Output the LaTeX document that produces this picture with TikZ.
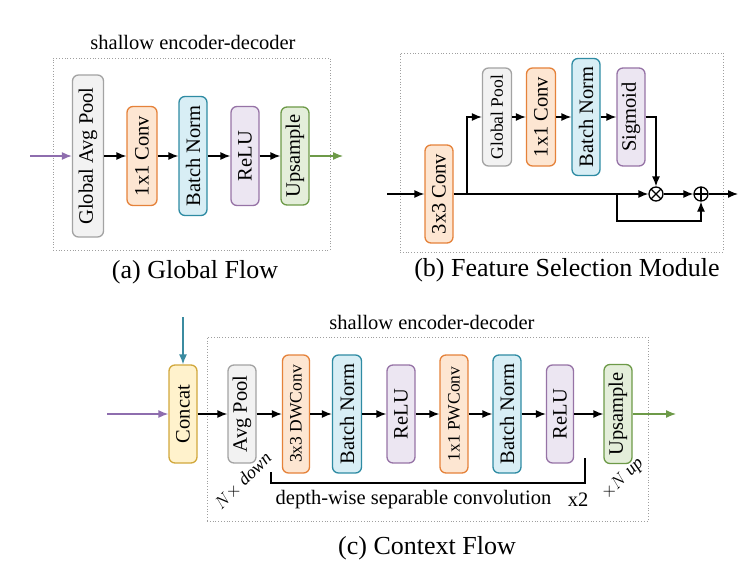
\documentclass[tikz,border=0pt]{standalone}
\usepackage{fontspec}
\usepackage{graphicx}
\setmainfont{Liberation Serif}
\usetikzlibrary{arrows.meta}

\definecolor{grayfill}{HTML}{F2F2F2}
\definecolor{graydraw}{HTML}{A3A3A3}
\definecolor{orangefill}{HTML}{FDE6D2}
\definecolor{orangedraw}{HTML}{E5823A}
\definecolor{bluefill}{HTML}{D8EEF5}
\definecolor{bluedraw}{HTML}{2E8BA3}
\definecolor{purplefill}{HTML}{ECE6F2}
\definecolor{purpledraw}{HTML}{9673A6}
\definecolor{greenfill}{HTML}{E4EEDA}
\definecolor{greendraw}{HTML}{6D9A48}
\definecolor{yellowfill}{HTML}{FFF2CC}
\definecolor{yellowdraw}{HTML}{D1A83C}
\definecolor{inarrow}{HTML}{8E6DAE}
\definecolor{toparrow}{HTML}{3B8BA0}

\newcommand{\vtext}[1]{\rotatebox{90}{#1}}
\newcommand{\smallfont}{\fontsize{17.5pt}{20pt}\selectfont}

\tikzset{
	blk/.style={draw, rounded corners=6pt, line width=1.3pt, inner sep=0pt},
	grayblk/.style={blk, draw=graydraw, fill=grayfill},
	orangeblk/.style={blk, draw=orangedraw, fill=orangefill},
	blueblk/.style={blk, draw=bluedraw, fill=bluefill},
	purpleblk/.style={blk, draw=purpledraw, fill=purplefill},
	greenblk/.style={blk, draw=greendraw, fill=greenfill},
	yellowblk/.style={blk, draw=yellowdraw, fill=yellowfill},
	frame/.style={draw=gray!75, dotted, line width=0.8pt, inner sep=0pt},
	caption/.style={font=\fontsize{26pt}{30pt}\selectfont},
	flow/.style={-{Latex[length=10pt,width=8pt]}, line width=1.3pt},
	opnode/.style={circle, draw, line width=1.3pt, minimum size=14pt, inner sep=0pt},
	slanted/.style={rotate=45, inner sep=0pt, font=\fontsize{18pt}{20pt}\selectfont\itshape},
	lbl/.style={inner sep=1pt},
}

\begin{document}
\begin{tikzpicture}[x=1pt, y=-1pt, font=\fontsize{20.5pt}{24pt}\selectfont]
	\useasboundingbox (0,0) rectangle (746,567);

	% (a) global flow
	\node[frame, minimum width=277pt, minimum height=192pt] (aframe) at (191.5,154) {};
	\node (atitle) at (193,42) {shallow encoder-decoder};
	\node[caption] (acap) at (195,272) {(a) Global Flow};
	\node[grayblk, minimum width=31pt, minimum height=162pt] (gavg) at (88,156) {\vtext{Global Avg Pool}};
	\node[orangeblk, minimum width=30pt, minimum height=99pt] (gconv) at (142,156) {\vtext{1x1 Conv}};
	\node[blueblk, minimum width=28pt, minimum height=119pt] (gbn) at (193,156) {\vtext{Batch Norm}};
	\node[purpleblk, minimum width=28pt, minimum height=99pt] (grelu) at (245,156) {\vtext{ReLU}};
	\node[greenblk, minimum width=28pt, minimum height=98pt] (gup) at (295,156) {\vtext{Upsample}};
	\coordinate (ain) at (30,156);
	\coordinate (aout) at (343,156);
	\draw[flow, inarrow] (ain) -- (gavg);
	\draw[flow] (gavg) -- (gconv);
	\draw[flow] (gconv) -- (gbn);
	\draw[flow] (gbn) -- (grelu);
	\draw[flow] (grelu) -- (gup);
	\draw[flow, greendraw] (gup) -- (aout);

	% (b) feature selection module
	\node[frame, minimum width=323pt, minimum height=199pt] (bframe) at (561.5,152.5) {};
	\node[caption] (bcap) at (567,270) {(b) Feature Selection Module};
	\node[orangeblk, minimum width=28pt, minimum height=98pt] (fconv) at (439,194) {\vtext{3x3 Conv}};
	\node[grayblk, minimum width=29pt, minimum height=98pt] (fpool) at (497,117) {\vtext{\smallfont Global Pool}};
	\node[orangeblk, minimum width=29pt, minimum height=98pt] (fconv1) at (541,117) {\vtext{1x1 Conv}};
	\node[blueblk, minimum width=28pt, minimum height=117pt] (fbn) at (586,117) {\vtext{Batch Norm}};
	\node[purpleblk, minimum width=28pt, minimum height=98pt] (fsig) at (631,117) {\vtext{Sigmoid}};
	\node[opnode, path picture={
		\draw[line width=1.3pt] (path picture bounding box.north west) -- (path picture bounding box.south east);
		\draw[line width=1.3pt] (path picture bounding box.south west) -- (path picture bounding box.north east);}] (fmul) at (656,194) {};
	\node[opnode, path picture={
		\draw[line width=1.3pt] (path picture bounding box.north) -- (path picture bounding box.south);
		\draw[line width=1.3pt] (path picture bounding box.west) -- (path picture bounding box.east);}] (fadd) at (701,194) {};
	\coordinate (bin) at (387,194);
	\coordinate (bout) at (738,194);
	\coordinate (fsplit) at (467,194);
	\coordinate (fskip) at (617,194);
	\draw[flow] (bin) -- (fconv);
	\draw[flow] (fconv) -- (fmul);
	\draw[flow] (fsplit) |- (fpool);
	\draw[flow] (fpool) -- (fconv1);
	\draw[flow] (fconv1) -- (fbn);
	\draw[flow] (fbn) -- (fsig);
	\draw[flow] (fsig) -| (fmul);
	\draw[flow] (fmul) -- (fadd);
	\draw[flow] (fskip) -- ++(0,27) -| (fadd);
	\draw[flow] (fadd) -- (bout);

	% (c) context flow
	\node[frame, minimum width=441pt, minimum height=184pt] (cframe) at (427.5,429) {};
	\node (ctitle) at (432,322) {shallow encoder-decoder};
	\node[caption] (ccap) at (427,548) {(c) Context Flow};
	\node[yellowblk, minimum width=28pt, minimum height=98pt] (cat) at (183,414) {\vtext{Concat}};
	\node[grayblk, minimum width=28pt, minimum height=98pt] (cpool) at (242,414) {\vtext{Avg Pool}};
	\node[orangeblk, minimum width=27pt, minimum height=118pt] (cdw) at (296,414) {\vtext{\smallfont 3x3 DWConv}};
	\node[blueblk, minimum width=29pt, minimum height=118pt] (cbn1) at (347,414) {\vtext{Batch Norm}};
	\node[purpleblk, minimum width=28pt, minimum height=98pt] (crelu1) at (401,414) {\vtext{ReLU}};
	\node[orangeblk, minimum width=28pt, minimum height=118pt] (cpw) at (454,414) {\vtext{\smallfont 1x1 PWConv}};
	\node[blueblk, minimum width=28pt, minimum height=118pt] (cbn2) at (507,414) {\vtext{Batch Norm}};
	\node[purpleblk, minimum width=27pt, minimum height=98pt] (crelu2) at (560,414) {\vtext{ReLU}};
	\node[greenblk, minimum width=28pt, minimum height=99pt] (cup) at (618,414) {\vtext{Upsample}};
	\coordinate (cin) at (107,414);
	\coordinate (cout) at (676,414);
	\coordinate (ctop) at (183,317);
	\draw[flow, inarrow] (cin) -- (cat);
	\draw[flow, toparrow] (ctop) -- (cat);
	\draw[flow] (cat) -- (cpool);
	\draw[flow] (cpool) -- (cdw);
	\draw[flow] (cdw) -- (cbn1);
	\draw[flow] (cbn1) -- (crelu1);
	\draw[flow] (crelu1) -- (cpw);
	\draw[flow] (cpw) -- (cbn2);
	\draw[flow] (cbn2) -- (crelu2);
	\draw[flow] (crelu2) -- (cup);
	\draw[flow, greendraw] (cup) -- (cout);
	% bracket under the separable convolution
	\coordinate (brl) at (271,472);
	\coordinate (brr) at (585,458);
	\draw[line width=1.3pt] (brl) -- ++(0,11) -| (brr);
	\node[lbl] (dwlabel) at (413.5,500) {depth-wise separable convolution};
	\node[lbl] (twice) at (578,500) {x2};
	\node[slanted] (down) at (243,481) {$N\times$ down};
	\node[slanted] (up) at (623,479) {$\times N$ up};
\end{tikzpicture}
\end{document}
